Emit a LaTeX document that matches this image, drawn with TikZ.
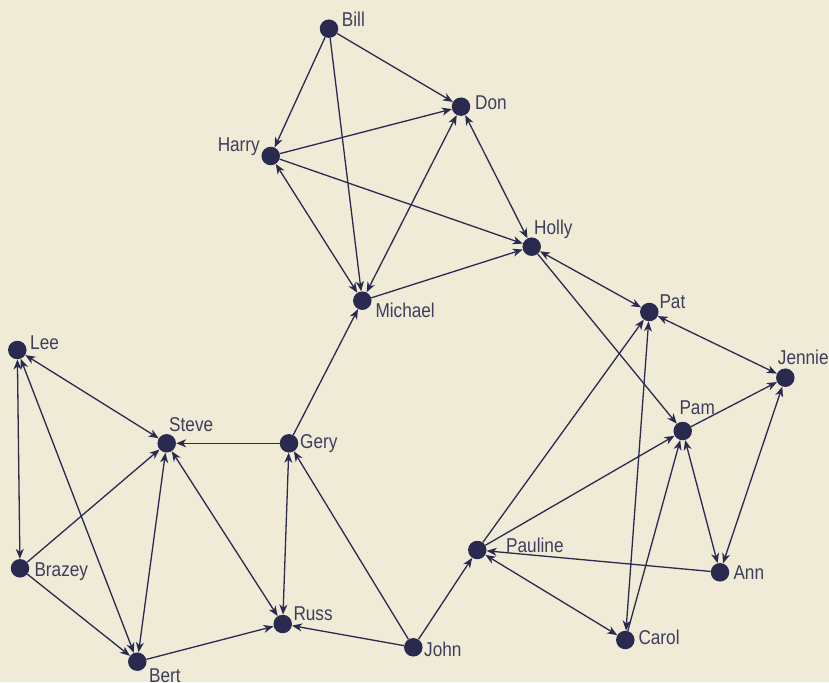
\documentclass[tikz,border=0pt]{standalone}
\usepackage{fontspec}
\setmainfont{Liberation Sans}[FakeStretch=0.86]
\usetikzlibrary{arrows.meta}
\definecolor{bg}{RGB}{239,235,214}
\definecolor{nd}{RGB}{42,42,80}
\definecolor{tx}{RGB}{62,62,92}
\tikzset{
  pers/.style={circle,fill=nd,inner sep=0pt,minimum size=18.5pt},
  lbl/.style={anchor=base west,inner sep=0pt,text=tx,font=\fontsize{20}{22}\selectfont},
  lblr/.style={anchor=base east,inner sep=0pt,text=tx,font=\fontsize{20}{22}\selectfont},
  edge/.style={draw=nd,line width=1.3pt},
  one/.style={edge,-{Stealth[length=10pt,width=8pt,inset=3pt]}},
  two/.style={edge,{Stealth[length=10pt,width=8pt,inset=3pt]}-{Stealth[length=10pt,width=8pt,inset=3pt]}}
}
\begin{document}
\begin{tikzpicture}[x=1pt,y=-1pt]
\fill[bg] (0,0) rectangle (829,682);
\useasboundingbox (0,0) rectangle (829,682);
% nodes
\node[pers] (bill) at (329,28.7) {};
\node[pers] (don) at (461,106.7) {};
\node[pers] (harry) at (270.7,156) {};
\node[pers] (holly) at (531.7,246.7) {};
\node[pers] (michael) at (362.3,300.7) {};
\node[pers] (pat) at (649.3,312) {};
\node[pers] (lee) at (17.3,350) {};
\node[pers] (jennie) at (785.3,377.7) {};
\node[pers] (steve) at (166.7,443.3) {};
\node[pers] (gery) at (289,443.3) {};
\node[pers] (pam) at (682.7,431) {};
\node[pers] (pauline) at (477.3,550) {};
\node[pers] (ann) at (720,572.3) {};
\node[pers] (brazey) at (20,568.3) {};
\node[pers] (russ) at (282.7,624) {};
\node[pers] (carol) at (625.3,640) {};
\node[pers] (john) at (413.3,647.3) {};
\node[pers] (bert) at (137.3,661.7) {};
% labels
\node[lbl] (lbill) at (341.7,26.7) {Bill};
\node[lbl] (ldon) at (475,109.3) {Don};
\node[lblr] (lharry) at (260,151.7) {Harry};
\node[lbl] (lholly) at (534,234) {Holly};
\node[lbl] (lmichael) at (375.3,317.7) {Michael};
\node[lbl] (lpat) at (659.3,308.3) {Pat};
\node[lbl] (ljennie) at (777.7,364) {Jennie};
\node[lbl] (lpam) at (679.3,414) {Pam};
\node[lbl] (lpauline) at (506,552.3) {Pauline};
\node[lbl] (lann) at (733.3,579) {Ann};
\node[lbl] (lcarol) at (638.3,644.3) {Carol};
\node[lbl] (llee) at (30,349.3) {Lee};
\node[lbl] (lsteve) at (169,431) {Steve};
\node[lbl] (lgery) at (300,448.3) {Gery};
\node[lbl] (lbrazey) at (34.3,576) {Brazey};
\node[lbl] (lbert) at (149,682) {Bert};
\node[lbl] (lruss) at (293.3,620) {Russ};
\node[lbl] (ljohn) at (424,656) {John};
% edges
\draw[one] (bill) -- (don);
\draw[one] (bill) -- (harry);
\draw[one] (bill) -- (michael);
\draw[one] (harry) -- (don);
\draw[one] (harry) -- (holly);
\draw[two] (harry) -- (michael);
\draw[two] (don) -- (michael);
\draw[two] (don) -- (holly);
\draw[one] (michael) -- (holly);
\draw[two] (holly) -- (pat);
\draw[one] (holly) -- (pam);
\draw[two] (pat) -- (jennie);
\draw[one] (pam) -- (jennie);
\draw[two] (pam) -- (ann);
\draw[two] (ann) -- (jennie);
\draw[one] (carol) -- (pam);
\draw[two] (pat) -- (carol);
\draw[one] (pauline) -- (pat);
\draw[one] (pauline) -- (pam);
\draw[one] (ann) -- (pauline);
\draw[two] (pauline) -- (carol);
\draw[one] (john) -- (pauline);
\draw[one] (john) -- (russ);
\draw[one] (john) -- (gery);
\draw[one] (gery) -- (michael);
\draw[one] (gery) -- (steve);
\draw[two] (gery) -- (russ);
\draw[two] (steve) -- (russ);
\draw[two] (steve) -- (bert);
\draw[two] (lee) -- (steve);
\draw[two] (lee) -- (brazey);
\draw[two] (lee) -- (bert);
\draw[one] (brazey) -- (steve);
\draw[one] (brazey) -- (bert);
\draw[one] (bert) -- (russ);
\end{tikzpicture}
\end{document}
